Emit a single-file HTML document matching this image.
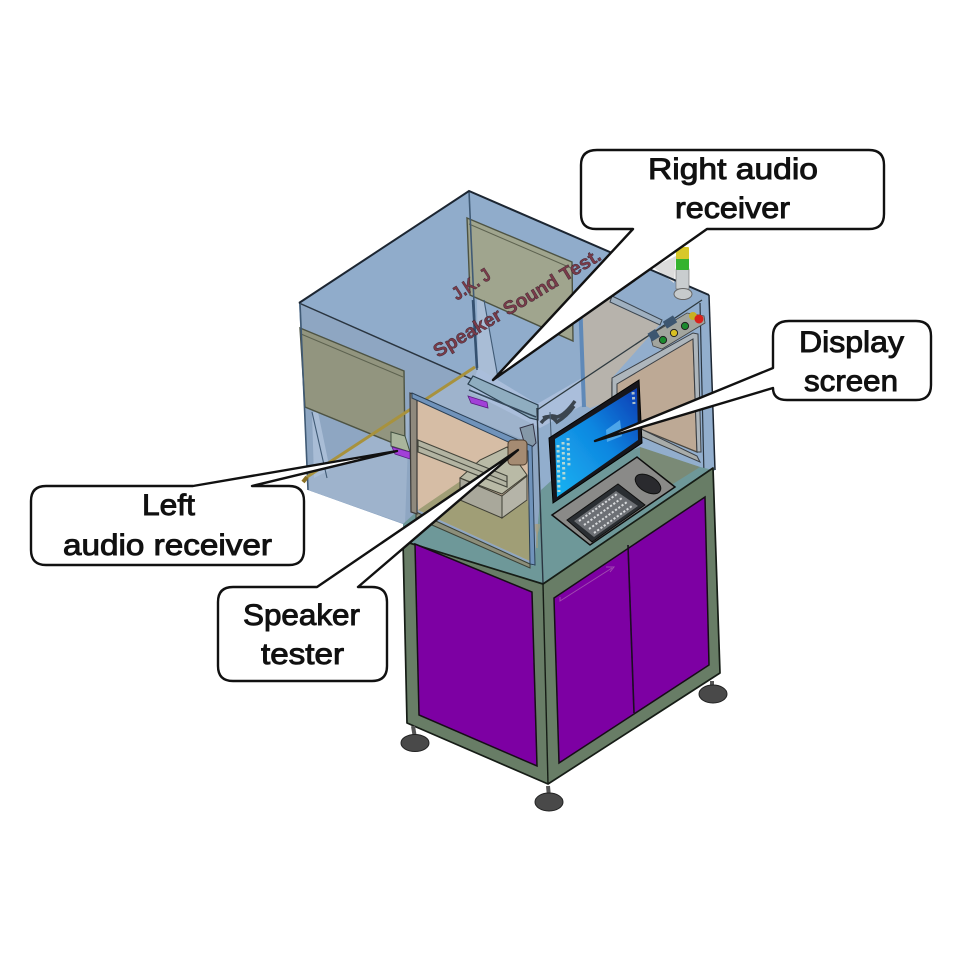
<!DOCTYPE html>
<html><head><meta charset="utf-8"><style>
html,body{margin:0;padding:0;background:#fff}
svg{display:block}
.l{font-family:"Liberation Sans",sans-serif;font-size:30px;fill:#111;stroke:#111;stroke-width:.95px}
.c{fill:#fff;stroke:#111;stroke-width:2.4;stroke-linejoin:round}
.e{fill:none;stroke:#2a3540;stroke-width:1.5}
.d{font-family:"Liberation Sans",sans-serif;font-weight:bold;fill:#7a3a48;stroke:#3f2a35;stroke-width:.45px;font-size:19px}
</style></head><body>
<svg width="960" height="960" viewBox="0 0 960 960" xmlns="http://www.w3.org/2000/svg">
<defs>
<linearGradient id="sc" x1="0" y1="1" x2="1" y2="0"><stop offset="0" stop-color="#18b4f2"/><stop offset=".55" stop-color="#0f86e0"/><stop offset="1" stop-color="#0a3cb4"/></linearGradient>
<filter id="b" x="-5%" y="-5%" width="110%" height="110%"><feGaussianBlur stdDeviation=".35"/></filter>
</defs>
<rect width="960" height="960" fill="#fff"/>
<g filter="url(#b)">
<!-- enclosure silhouette -->
<polygon points="299,303 469,191 709,295 715,470 543,584 403,541 403,524 308,490" fill="#90accb"/>
<polygon points="299,303 537,408 543,584 403,541 403,524 308,490" fill="#8ea6c2"/>
<polygon points="537,408 709,295 715,470 543,584" fill="#92aecd"/>
<!-- floor -->
<polygon points="307,477 475,367 538,408 536,445 410,393 405,524 308,490" fill="#9eb3cc"/>
<polygon points="477,300 484,300 498,380 478,370" fill="#a9bdd6"/>
<polygon points="312,412 318,412 330,470 314,478" fill="#a9bdd6"/>
<polygon points="478,368 537,404 582,378 583,405 540,428 470,392" fill="#aabedb"/>

<!-- back panels -->
<polygon points="467,218 572,262 573,341 470,295" fill="#a0a58e" stroke="#4d5242" stroke-width="1.4"/>
<line x1="469" y1="224" x2="571" y2="268" stroke="#5d6250"/>
<polygon points="300,328 404,371 405,448 305,407" fill="#92957f" stroke="#4d5242" stroke-width="1.4"/>
<line x1="301" y1="334" x2="403" y2="377" stroke="#5d6250"/>

<!-- top edges -->
<polyline class="e" points="299,303 537,408"/>
<line x1="469" y1="191" x2="477" y2="370" stroke="#3f5a75" stroke-width="1.6"/>
<line x1="473" y1="300" x2="477" y2="368" stroke="#34516f" stroke-width="2.6"/>
<line x1="300" y1="303" x2="308" y2="490" stroke="#3f5a75" stroke-width="1.6"/>
<line x1="484" y1="300" x2="498" y2="378" stroke="#3f5a75" stroke-width="1.1"/>
<line x1="312" y1="412" x2="327" y2="478" stroke="#3f5a75" stroke-width="1.1"/>

<!-- gold rod -->
<line x1="475" y1="367" x2="307" y2="477" stroke="#a8923e" stroke-width="3"/>
<line x1="307" y1="477" x2="303" y2="482" stroke="#8b6f22" stroke-width="4"/>

<!-- right window back -->
<polygon points="583,316 612,296 662,322 612,378 612,400 590,408 584,405" fill="#b7b3ac"/>
<polygon points="612,296 662,320 660,325 610,302" fill="#9fb0c0" stroke="#3a4550" stroke-width="1"/>
<line x1="580" y1="300" x2="584" y2="407" stroke="#5f89b8" stroke-width="4"/>
<polygon points="612,382 693,337 697,452 643,430 612,400" fill="#bda995" stroke="#4a4640" stroke-width="1.3"/>
<polygon points="612,378 693,333 698,334 701,452 697,452 693,339 617,384 617,404 612,402" fill="#aeb6bc" stroke="#3a3f45" stroke-width="1"/>
<polygon points="612,402 643,430 697,456 700,462 640,436 612,410" fill="#a8acaa" stroke="#3a3f45" stroke-width="1"/>
<polygon points="653,267 676,256 674,283" fill="#dcdcdc"/>

<!-- front diagonal -->
<line x1="537" y1="410" x2="702" y2="300" stroke="#2f3a40" stroke-width="1.3"/>
<line x1="700" y1="303" x2="704" y2="476" stroke="#2a3540" stroke-width="1.2"/>

<!-- right receiver bar -->
<polygon points="468,384 473,376 538,405 538,420 530,418" fill="#8fadc0" stroke="#2c4050" stroke-width="1.2"/>
<line x1="469" y1="390" x2="536" y2="417" stroke="#35485a" stroke-width="1.6"/>
<polygon points="468,396 487,402 488,408 471,403" fill="#a23fd8" stroke="#5a1f80" stroke-width=".8"/>

<!-- left receiver -->
<polygon points="391,432 405,436 410,452 391,446" fill="#a9b59c" stroke="#40503f" stroke-width="1"/>
<polygon points="392,447 410,452 410,459 395,454" fill="#a23fd8" stroke="#5a1f80" stroke-width=".8"/>

<!-- table top -->
<polygon points="403,541 403,524 415,513 534,566 541,490 552,480 640,447 700,467 713,470 543,584" fill="#6e9899"/>
<polygon points="640,447 700,467 660,492 640,470" fill="#7a8a76"/>
<path d="M533,524 l4,12 l4,-12 z" fill="#a89f80" opacity=".6"/>
<line x1="537" y1="524" x2="537" y2="548" stroke="#a89f80" stroke-width="2" opacity=".6"/>

<!-- speaker clamp behind -->
<polygon points="520,428 533,424 536,443 527,452" fill="#8598a8" stroke="#334" stroke-width="1"/>

<!-- front-left window -->
<polygon points="414,399 530,449 532,562 418,510" fill="#d6bda5"/>
<polygon points="418,510 465,478 502,518 528,500 532,562" fill="#a09e76"/>
<polygon points="416,512 530,564 530,568 416,518" fill="#8c8e7a" stroke="#3a3f35" stroke-width="1"/>
<polygon points="410,393 417,396 417,514 411,512" fill="#8f897d" stroke="#3c3a38" stroke-width="1.2"/>
<polygon points="412,393 532,446 535,565 530,564 528,451 412,398" fill="#6f93bb" stroke="#2b3f55" stroke-width="1"/>

<!-- speaker tester -->
<polygon points="460,478 480,460 507,447 527,475 502,494" fill="#b9baa6" stroke="#3f3f35" stroke-width="1"/>
<polygon points="460,478 502,496 502,518 460,500" fill="#a9a89b" stroke="#3f3f35" stroke-width="1"/>
<polygon points="502,496 527,476 527,500 502,518" fill="#b5b4a8" stroke="#3f3f35" stroke-width="1"/>
<polygon points="418,440 507,476 507,487 418,452" fill="#b3b4a2" stroke="#45463c" stroke-width="1.2"/>
<line x1="418" y1="446" x2="507" y2="482" stroke="#4a4b40" stroke-width="1.1"/>
<rect x="508" y="440" width="19" height="25" rx="4" fill="#a58b72" stroke="#4d3d2f" stroke-width="1"/>

<!-- cables -->
<path d="M541,423 q8,-10 16,-6 q8,-2 18,-16 M543,418 q8,-4 14,4 q10,-6 17,-16" fill="none" stroke="#3a4450" stroke-width="3.5"/>

<!-- front pillar -->
<line x1="537" y1="408" x2="543" y2="583" stroke="#2a3540" stroke-width="1.4"/>
<line x1="550" y1="412" x2="553" y2="480" stroke="#4a5f75" stroke-width="1.1"/>

<!-- enclosure outline -->
<polyline points="299,303 469,191 709,295" fill="none" stroke="#1c2530" stroke-width="2"/>
<line x1="709" y1="295" x2="715" y2="470" stroke="#1c2530" stroke-width="1.5"/>

<!-- cabinet -->
<polygon points="403,541 543,584 713,468 720,673 548,784 407,723" fill="#677d66" stroke="#141c14" stroke-width="1.7" stroke-linejoin="round"/>
<polygon points="415,544 532,592 537,766 419,715" fill="#7d00a3" stroke="#141014" stroke-width="1.5"/>
<polygon points="554,598 705,497 709,665 559,763" fill="#7d00a3" stroke="#141014" stroke-width="1.5"/>
<line x1="628" y1="545" x2="634" y2="713" stroke="#1a0a20" stroke-width="1.6"/>
<line x1="543" y1="584" x2="548" y2="784" stroke="#141c14" stroke-width="1.4"/>
<path d="M560,597 l0,4 l52,-33 M606,567 l8,0 l-4,5" fill="none" stroke="#a04ab0" stroke-width="1"/>

<!-- feet -->
<line x1="413" y1="726" x2="415" y2="738" stroke="#555" stroke-width="4"/>
<ellipse cx="415" cy="743" rx="14" ry="8.5" fill="#484a4a" stroke="#222"/>
<line x1="548" y1="786" x2="549" y2="797" stroke="#555" stroke-width="4"/>
<ellipse cx="549" cy="802" rx="14" ry="9" fill="#484a4a" stroke="#222"/>
<line x1="712" y1="681" x2="712" y2="690" stroke="#555" stroke-width="4"/>
<ellipse cx="713" cy="694" rx="14" ry="9" fill="#484a4a" stroke="#222"/>

<!-- stack light -->
<rect x="676" y="269" width="13" height="20" fill="#c9cdcf" stroke="#666" stroke-width=".6"/>
<rect x="676" y="258" width="13" height="12" rx="1" fill="#34b32e"/>
<rect x="676" y="247" width="13" height="12" rx="1" fill="#d8c82c"/>
<ellipse cx="683" cy="294" rx="9" ry="5.5" fill="#c7cbcc" stroke="#666"/>

<!-- buttons -->
<polygon points="650,335 687,313 704,316 705,323 662,349 653,346" fill="#a2a59e" stroke="#444" stroke-width=".8"/>
<rect x="649" y="331" width="9" height="9" fill="#3d5670" transform="rotate(-32 653 335)"/>
<rect x="664" y="318" width="12" height="8" fill="#3d5670" transform="rotate(-32 670 322)"/>
<circle cx="663" cy="340" r="3.6" fill="#1e8a2e" stroke="#222"/>
<circle cx="674" cy="333" r="3.6" fill="#d8c020" stroke="#222"/>
<circle cx="685" cy="326" r="3.6" fill="#1e8a2e" stroke="#222"/>
<circle cx="693" cy="316" r="4" fill="#c8b020"/>
<circle cx="699" cy="319" r="4.5" fill="#d8201f"/>

<!-- tray & keyboard -->
<polygon points="552,515 637,457 675,487 590,545" fill="#8a8a88" stroke="#111" stroke-width="1.5"/>
<polygon points="567,520 618,484 645,505 592,542" fill="#2c2e30" stroke="#111"/>
<polygon points="574,521 616,491 638,506 594,537" fill="#6d7074"/>
<g stroke="#d8dadc" stroke-width="2" stroke-dasharray="2.2 1.8">
<line x1="579" y1="521" x2="617" y2="494"/><line x1="584" y1="525" x2="622" y2="498"/><line x1="589" y1="529" x2="627" y2="502"/><line x1="594" y1="533" x2="632" y2="506"/>
</g>
<ellipse cx="648" cy="484" rx="14" ry="8" transform="rotate(30 648 484)" fill="#2a2c2e" stroke="#111"/>

<!-- monitor -->
<polygon points="549,438 639,380 642,443 553,503" fill="#17191b" stroke="#000"/>
<polygon points="555,439 637,388 638,440 557,497" fill="url(#sc)"/>
<polygon points="606,430 620,420 622,436 607,442" fill="#63b8f0" opacity=".75"/>
<g stroke="#e6ead0" stroke-width="3" stroke-dasharray="2.5 2.5" opacity=".75" fill="none">
<line x1="558" y1="445" x2="559" y2="492"/><line x1="563" y1="442" x2="564" y2="482"/><line x1="568" y1="438" x2="569" y2="466"/>
<line x1="633" y1="392" x2="634" y2="404"/>
</g>

<!-- text on enclosure -->
<text class="d" transform="translate(457,301) rotate(-33)" textLength="42" lengthAdjust="spacingAndGlyphs">J.K. J</text>
<text class="d" transform="translate(438,358) rotate(-31)" textLength="192" lengthAdjust="spacingAndGlyphs">Speaker Sound Test.</text>
</g>

<!-- callouts -->
<path class="c" d="M597,150 H869 Q884,150 884,165 V214 Q884,229 869,229 H707 L493,380 L633,229 H596 Q581,229 581,214 V165 Q581,150 597,150 Z"/>
<path class="c" d="M789,321 H916 Q931,321 931,336 V385 Q931,400 916,400 H787 Q773,400 773,388 L595,441 L773,368 V336 Q773,321 789,321 Z"/>
<path class="c" d="M46,486 H193 L397,451 L252,486 H289 Q304,486 304,501 V550 Q304,565 289,565 H46 Q31,565 31,550 V501 Q31,486 46,486 Z"/>
<path class="c" d="M233,587 H317 L518,450 L358,587 H372 Q387,587 387,602 V666 Q387,681 372,681 H233 Q218,681 218,666 V602 Q218,587 233,587 Z"/>

<text class="l" x="648" y="179" textLength="170" lengthAdjust="spacingAndGlyphs">Right audio</text>
<text class="l" x="675" y="218" textLength="115" lengthAdjust="spacingAndGlyphs">receiver</text>
<text class="l" x="799" y="352" textLength="105" lengthAdjust="spacingAndGlyphs">Display</text>
<text class="l" x="804" y="391" textLength="94" lengthAdjust="spacingAndGlyphs">screen</text>
<text class="l" x="142" y="515" textLength="53" lengthAdjust="spacingAndGlyphs">Left</text>
<text class="l" x="63" y="555" textLength="209" lengthAdjust="spacingAndGlyphs">audio receiver</text>
<text class="l" x="243" y="625" textLength="117" lengthAdjust="spacingAndGlyphs">Speaker</text>
<text class="l" x="261" y="664" textLength="83" lengthAdjust="spacingAndGlyphs">tester</text>
</svg>
</body></html>
